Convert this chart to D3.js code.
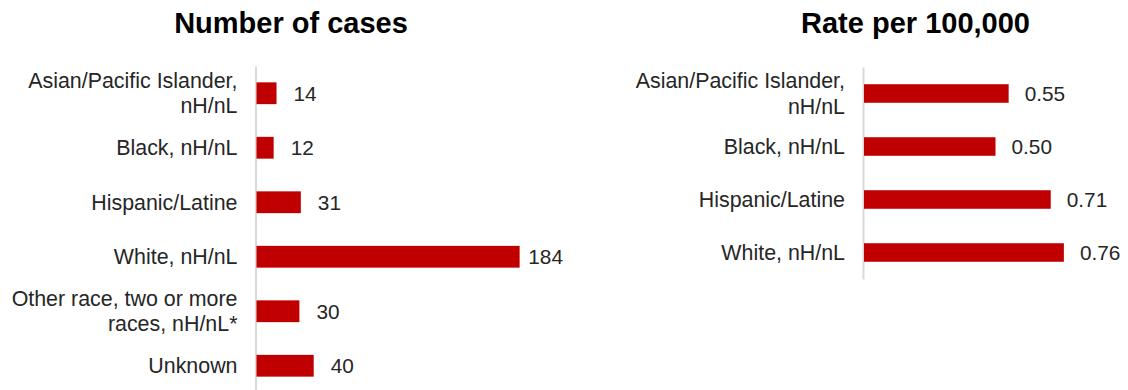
<!DOCTYPE html>
<html>
<head>
<meta charset="utf-8">
<script src="https://cdn.jsdelivr.net/npm/d3@7"></script>
<style>
  body { margin: 0; background: #fff; }
  svg { display: block; font-family: "Liberation Sans", Arial, sans-serif; }
</style>
</head>
<body>
<svg id="chart" width="1128" height="390"></svg>
<script>
const width = 1128,
      height = 390,
      barColor = "#c00000",
      textColor = "#262626",
      axisColor = "#d9d9d9";

// left panel: number of cases
const caseCategories = [
  "Asian/Pacific Islander,\nnH/nL",
  "Black, nH/nL",
  "Hispanic/Latine",
  "White, nH/nL",
  "Other race, two or more\nraces, nH/nL*",
  "Unknown"
];
const caseValues = [14, 12, 31, 184, 30, 40];

// right panel: rate per 100,000
const rateCategories = [
  "Asian/Pacific Islander,\nnH/nL",
  "Black, nH/nL",
  "Hispanic/Latine",
  "White, nH/nL"
];
const rateValues = [0.55, 0.50, 0.71, 0.76];

const svg = d3.select("#chart");

// draws one horizontal bar panel
function drawPanel(opts) {
  const x = d3.scaleLinear().domain(opts.xDomain).range([opts.x0, opts.x1]);
  const y = d3.scaleBand()
    .domain(opts.categories)
    .range([opts.y0, opts.y1])
    .paddingInner(opts.pad)
    .paddingOuter(opts.pad / 2);

  const g = svg.append("g");

  // title
  g.append("text")
    .attr("x", opts.titleX)
    .attr("y", 33)
    .attr("text-anchor", "middle")
    .style("font-size", "29px")
    .style("font-weight", "bold")
    .style("fill", "#000")
    .text(opts.title);

  // category axis
  const axis = g.append("g")
    .attr("transform", `translate(${opts.x0 - 1},0)`)
    .call(d3.axisLeft(y).tickSize(0).tickSizeOuter(0).tickPadding(18));

  axis.attr("font-size", null).attr("font-family", null);
  axis.select(".domain").attr("stroke", axisColor).attr("stroke-width", 2);
  axis.selectAll(".tick text")
    .style("font-size", "21.4px")
    .style("fill", textColor)
    .each(function(d) {
      const lines = d.split("\n");
      const t = d3.select(this).text(null).attr("dy", null);
      const lh = 25.5;
      const start = -(lines.length - 1) * lh / 2;
      lines.forEach((ln, i) => {
        t.append("tspan")
          .attr("x", -18)
          .attr("y", start + i * lh)
          .attr("dy", "0.35em")
          .text(ln);
      });
    });

  // bars
  const data = opts.categories.map((c, i) => ({ c, v: opts.values[i] }));
  g.selectAll("rect.bar")
    .data(data)
    .join("rect")
    .attr("class", "bar")
    .attr("x", x(0))
    .attr("y", d => y(d.c))
    .attr("width", d => x(d.v) - x(0))
    .attr("height", y.bandwidth())
    .attr("fill", barColor);

  // value labels
  g.selectAll("text.val")
    .data(data)
    .join("text")
    .attr("class", "val")
    .attr("y", d => y(d.c) + y.bandwidth() / 2)
    .attr("dy", "0.35em")
    .style("font-size", "20.8px")
    .style("fill", textColor)
    .text(d => opts.fmt(d.v))
    .each(function(d) {
      const w = this.getComputedTextLength();
      let lx = x(d.v) + opts.labelGap;
      if (lx + w > opts.maxRight) lx = opts.maxRight - w;
      d3.select(this).attr("x", lx);
    });
}

drawPanel({
  title: "Number of cases",
  titleX: 291,
  categories: caseCategories,
  values: caseValues,
  xDomain: [0, 200],
  x0: 256.5, x1: 542.5,
  y0: 66, y1: 393,
  pad: 0.6,
  labelGap: 17,
  maxRight: 563,
  fmt: d3.format("d")
});

drawPanel({
  title: "Rate per 100,000",
  titleX: 915.5,
  categories: rateCategories,
  values: rateValues,
  xDomain: [0, 0.8],
  x0: 864, x1: 1074.4,
  y0: 67, y1: 279,
  pad: 0.65,
  labelGap: 16,
  maxRight: 1125,
  fmt: d3.format(".2f")
});
</script>
</body>
</html>
